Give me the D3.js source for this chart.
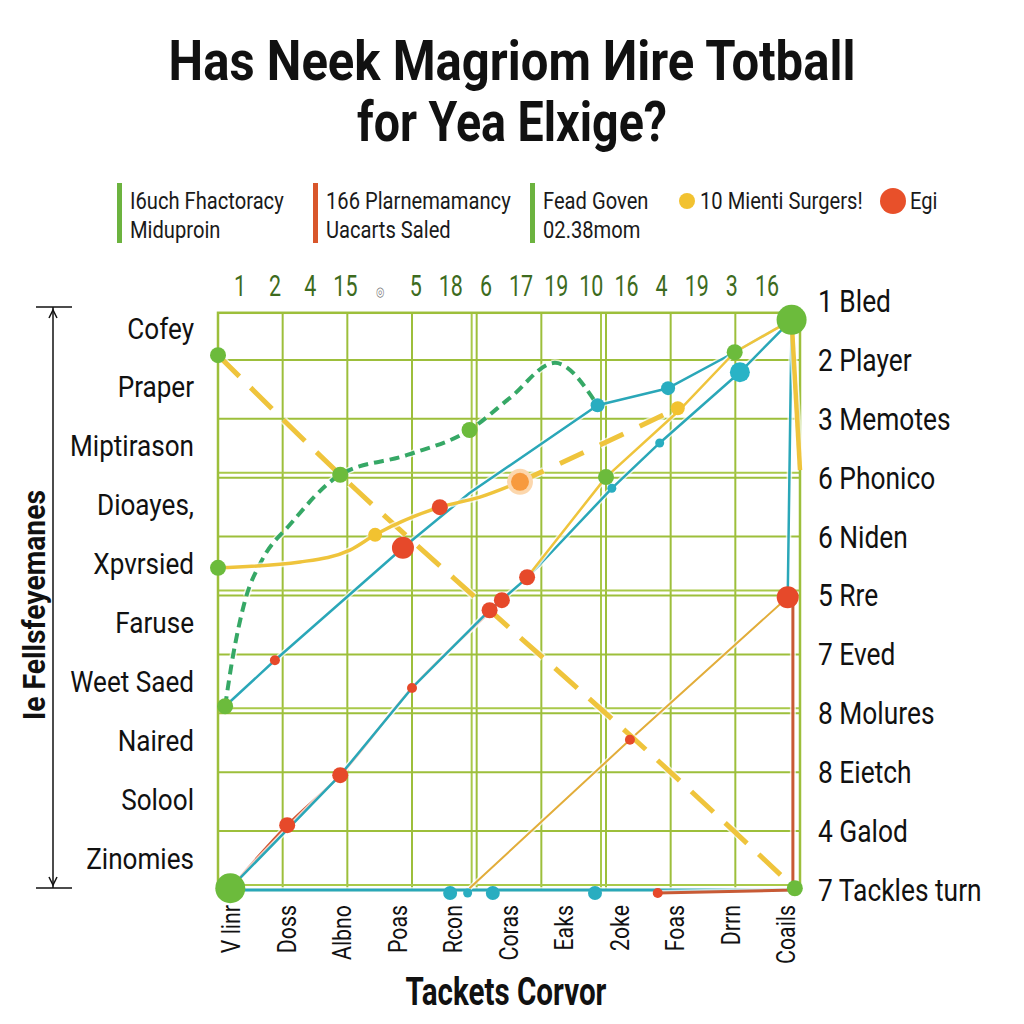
<!DOCTYPE html>
<html>
<head>
<meta charset="utf-8">
<script src="https://cdn.jsdelivr.net/npm/d3@7"></script>
<style>
  body { margin:0; background:#fff; }
  svg text { font-family:"Roboto","Liberation Sans",sans-serif; }
</style>
</head>
<body>
<div id="chart"></div>
<script>
// tick labels
var topLabels = ['1','2','4','15','◎','5','18','6','17','19','10','16','4','19','3','16'];
var bottomLabels = ['V linr','Doss','Albno','Poas','Rcon','Coras','Eaks','2oke','Foas','Drrn','Coails'];
var leftLabels = ['Cofey','Praper','Miptirason','Dioayes,','Xpvrsied','Faruse','Weet Saed','Naired','Solool','Zinomies'];
var rightLabels = ['1 Bled','2 Player','3 Memotes','6 Phonico','6 Niden','5 Rre','7 Eved','8 Molures','8 Eietch','4 Galod','7 Tackles turn'];

// series [x, y]
var yellowDashed = [[0,9.08],[1.89,7.05],[4.2,4.75],[6.37,2.63],[8.92,0.03]];
var greenDashed = [[0.11,3.12],[0.22,3.9],[0.42,4.92],[0.68,5.6],[1.11,6.2],[1.89,7.05],[2.94,7.39],[3.89,7.81],[4.51,8.35],[5.21,8.95],[5.87,8.23]];
var tealUpper = [[0.11,3.12],[0.88,3.9],[2.86,5.81],[3.89,6.74],[4.98,7.56],[5.87,8.23],[6.96,8.52],[7.99,9.13],[8.87,9.68]];
var tealLower = [[0.19,0.03],[1.89,1.95],[3.0,3.43],[4.2,4.75],[4.79,5.31],[6.09,6.82],[6.83,7.59],[8.07,8.79],[8.87,9.68],[8.81,4.97]];
var tealBase = [[0.19,0],[8.92,0]];
var redLine = [[0.19,0.03],[1.07,1.1],[1.89,1.95],[3.0,3.43],[4.2,4.72],[4.39,4.92]];
var yellowSolid = [[0,5.47],[1.27,5.57],[2.04,5.77],[2.43,6.03],[3.43,6.5],[4.05,6.67],[4.67,6.93]];
var yellowDash2 = [[4.67,6.93],[5.8,7.5],[7.11,8.18]];
var yellowThin = [[4.78,5.31],[6.0,7.01],[7.14,8.15],[7.99,9.13],[8.87,9.68]];
var yellowDrop = [[8.87,9.68],[9.0,7.13]];
var orangeDiag = [[3.89,0.03],[6.37,2.55],[8.81,4.97]];
var redDrop = [[8.89,4.97],[8.89,0],[6.8,-0.05]];

// markers
var greenBig = [[0.19,0.03],[8.87,9.68]];
var greenDots = [[0,9.08],[0.11,3.12],[1.89,7.05],[3.89,7.81],[6.0,7.01],[7.99,9.13],[8.92,0.03],[0,5.47]];
var tealBig = [[8.07,8.79]];
var tealDots = [[5.87,8.23],[6.96,8.52],[3.59,-0.05],[4.25,-0.05],[5.83,-0.05]];
var tealSmall = [[6.09,6.82],[6.83,7.59],[3.86,-0.05]];
var redBig = [[8.81,4.97],[2.86,5.81]];
var redDots = [[1.07,1.1],[1.89,1.95],[4.2,4.75],[4.39,4.92],[4.78,5.31],[3.43,6.5]];
var redSmall = [[3.0,3.43],[0.88,3.9],[6.37,2.55],[6.8,-0.05]];
var yellowDots = [[2.43,6.03],[7.11,8.18]];
var orangeDots = [[4.67,6.93]];

// legend
var legendText = [['I6uch Fhactoracy','Miduproin'],['166 Plarnemamancy','Uacarts Saled'],['Fead Goven','02.38mom'],['10 Mienti Surgers!'],['Egi']];

// squeeze text horizontally around its anchor, the reference uses a condensed face
function condense(sel, k){
    sel.each(function(){
        var t = d3.select(this), x0 = +t.attr('x') || 0, tr = t.attr('transform') || '';
        t.attr('transform', tr+' translate('+x0+',0) scale('+k+',1) translate('+(-x0)+',0)');
    });
}
function fitWidth(sel, w){
    sel.each(function(){ condense(d3.select(this), w/this.getComputedTextLength()); });
}

var ChartViz = {
    init:function(){
        this.w = 1024; this.h = 1024;
        this.x = d3.scaleLinear().domain([0,9]).range([218,800]);
        this.y = d3.scaleLinear().domain([0,10]).range([890,301]);
        this.svg = d3.select('#chart').append('svg')
            .attr('width', this.w).attr('height', this.h);
        this.drawTitle();
        this.drawLegend();
        this.drawGrid();
        this.drawAxes();
        this.drawSeries();
        this.drawMarkers();
        return this;
    },
    drawTitle:function(){
        var t = this.svg.append('g').attr('font-weight','bold').attr('text-anchor','middle')
            .attr('fill','#111').attr('font-size',56);
        fitWidth(t.append('text').attr('x',512).attr('y',80).text('Has Neek Magriom Иire Totball'), 687);
        fitWidth(t.append('text').attr('x',512).attr('y',141).text('for Yea Elxige?'), 310);
    },
    drawLegend:function(){
        var g = this.svg.append('g').attr('font-size',24).attr('fill','#1a1a1a');
        var bars = [[117,'#6cb33f'],[313,'#d9562b'],[530,'#6cb33f']];
        bars.forEach(function(b,i){
            g.append('rect').attr('x',b[0]).attr('y',183).attr('width',5).attr('height',60).attr('fill',b[1]);
            legendText[i].forEach(function(s,j){
                g.append('text').attr('x',b[0]+13).attr('y',209+j*29).text(s);
            });
        });
        g.append('circle').attr('cx',687).attr('cy',201).attr('r',8).attr('fill','#f2c230');
        g.append('text').attr('x',700).attr('y',209).text(legendText[3][0]);
        g.append('circle').attr('cx',893).attr('cy',201).attr('r',13).attr('fill','#e8502a');
        g.append('text').attr('x',910).attr('y',209).text(legendText[4][0]);
        condense(g.selectAll('text'), 0.84);
    },
    drawGrid:function(){
        var x = this.x, y = this.y, g = this.svg.append('g').attr('fill','none');
        var top = y(9.8), bot = y(0);
        d3.range(0,10).forEach(function(i){
            g.append('line').attr('x1',x(i)).attr('x2',x(i)).attr('y1',top).attr('y2',bot)
                .attr('stroke','#9dbf3b').attr('stroke-width',2);
        });
        [4,6].forEach(function(i){
            g.append('line').attr('x1',x(i)-5).attr('x2',x(i)-5).attr('y1',top).attr('y2',bot)
                .attr('stroke','#a9c94a').attr('stroke-width',2);
        });
        d3.range(0,10).forEach(function(i){
            g.append('line').attr('x1',x(0)).attr('x2',x(9)).attr('y1',y(i)).attr('y2',y(i))
                .attr('stroke','#9dbf3b').attr('stroke-width',2);
        });
        [0,3,5,7].forEach(function(i){
            g.append('line').attr('x1',x(0)).attr('x2',x(9)).attr('y1',y(i)-5).attr('y2',y(i)-5)
                .attr('stroke','#a9c94a').attr('stroke-width',2);
        });
        g.append('rect').attr('x',x(0)).attr('y',top).attr('width',x(9)-x(0)).attr('height',bot-top)
            .attr('stroke','#9dbf3b').attr('stroke-width',2.5);
    },
    drawAxes:function(){
        var x = this.x, y = this.y, svg = this.svg;
        var xt = d3.scalePoint().domain(d3.range(topLabels.length)).range([240,767]);
        var top = svg.append('g').attr('font-size',29).attr('fill','#3d6b1e').attr('text-anchor','middle');
        top.selectAll('text').data(topLabels).enter().append('text')
            .attr('x',function(d,i){ return xt(i); })
            .attr('y',296)
            .attr('font-size',function(d){ return d=='◎' ? 13 : null; })
            .attr('fill',function(d){ return d=='◎' ? '#777' : null; })
            .text(function(d){ return d; });
        condense(top.selectAll('text'), 0.74);

        var xb = d3.scalePoint().domain(bottomLabels).range([231,786]);
        var bot = svg.append('g').attr('font-size',26).attr('fill','#111').attr('text-anchor','end');
        bot.selectAll('text').data(bottomLabels).enter().append('text')
            .attr('transform',function(d){ return 'translate('+(xb(d)+9)+',905) rotate(-90)'; })
            .text(function(d){ return d; });
        condense(bot.selectAll('text'), 0.82);

        var left = svg.append('g').attr('font-size',30).attr('fill','#111').attr('text-anchor','end');
        left.selectAll('text').data(leftLabels).enter().append('text')
            .attr('x',194).attr('y',function(d,i){ return y(9.55-i)+11; })
            .text(function(d){ return d; });
        condense(left.selectAll('text'), 0.87);

        var right = svg.append('g').attr('font-size',31).attr('fill','#111');
        right.selectAll('text').data(rightLabels).enter().append('text')
            .attr('x',818).attr('y',function(d,i){ return y(10-i)+11; })
            .text(function(d){ return d; });
        condense(right.selectAll('text'), 0.85);

        var a = svg.append('g').attr('stroke','#111').attr('stroke-width',1.5);
        a.append('line').attr('x1',53).attr('x2',53).attr('y1',307).attr('y2',888);
        a.append('line').attr('x1',36).attr('x2',72).attr('y1',307).attr('y2',307);
        a.append('line').attr('x1',36).attr('x2',72).attr('y1',888).attr('y2',888);
        a.append('path').attr('d','M49,318 L53,310 L57,318 M49,877 L53,885 L57,877').attr('fill','none');
        var yt = svg.append('text').attr('transform','translate(45,605) rotate(-90)')
            .attr('text-anchor','middle').attr('font-weight','bold').attr('font-size',32)
            .attr('fill','#111').text('Ie Fellsfeyemanes');
        fitWidth(yt, 230);
        var xtl = svg.append('text').attr('x',506).attr('y',1005).attr('text-anchor','middle')
            .attr('font-weight','bold').attr('font-size',38).attr('fill','#111').text('Tackets Corvor');
        fitWidth(xtl, 201);
    },
    drawSeries:function(){
        var x = this.x, y = this.y, g = this.svg.append('g').attr('fill','none')
            .attr('stroke-linecap','butt').attr('stroke-linejoin','round');
        var line = d3.line().x(function(d){ return x(d[0]); }).y(function(d){ return y(d[1]); });
        var smooth = d3.line().curve(d3.curveMonotoneX).x(function(d){ return x(d[0]); }).y(function(d){ return y(d[1]); });
        function add(data, gen, color, width, dash){
            g.append('path').attr('d',gen(data)).attr('stroke','#fff').attr('stroke-width',width+3)
                .attr('stroke-opacity',0.7).attr('stroke-dasharray',dash||null);
            g.append('path').attr('d',gen(data)).attr('stroke',color).attr('stroke-width',width)
                .attr('stroke-dasharray',dash||null);
        }
        add(tealBase, line, '#2aa7b8', 3);
        add(redDrop, line, '#c85a35', 3);
        add(orangeDiag, line, '#e2ad3a', 2);
        add(yellowDashed, smooth, '#efc43c', 5, '30,16');
        add(greenDashed, smooth, '#36a866', 4, '10,6');
        add(tealUpper, line, '#2aa7b8', 2.5);
        add(redLine, smooth, '#d2532e', 2.5);
        add(tealLower, line, '#2aa7b8', 2.5);
        add(yellowSolid, smooth, '#efc43c', 3.5);
        add(yellowDash2, line, '#efc43c', 5, '26,18');
        add(yellowThin, line, '#efc43c', 2.5);
        add(yellowDrop, line, '#efc43c', 4.5);
    },
    drawMarkers:function(){
        var x = this.x, y = this.y, g = this.svg.append('g');
        function dots(data, r, color){
            g.selectAll(null).data(data).enter().append('circle')
                .attr('cx',function(d){ return x(d[0]); }).attr('cy',function(d){ return y(d[1]); })
                .attr('r',r).attr('fill',color);
        }
        dots(orangeDots, 13, '#fcd7ad');
        dots(orangeDots, 9, '#f79a3e');
        dots(greenDots, 8, '#6cbb3c');
        dots(greenBig, 15, '#6cbb3c');
        dots(tealDots, 7, '#29adc0');
        dots(tealSmall, 4.5, '#29adc0');
        dots(tealBig, 10, '#29b3c6');
        dots(redDots, 8, '#e6492a');
        dots(redSmall, 5, '#e6492a');
        dots(redBig, 11, '#e6492a');
        dots(yellowDots, 7, '#f2c230');
    }
};

ChartViz.init();
</script>
</body>
</html>
